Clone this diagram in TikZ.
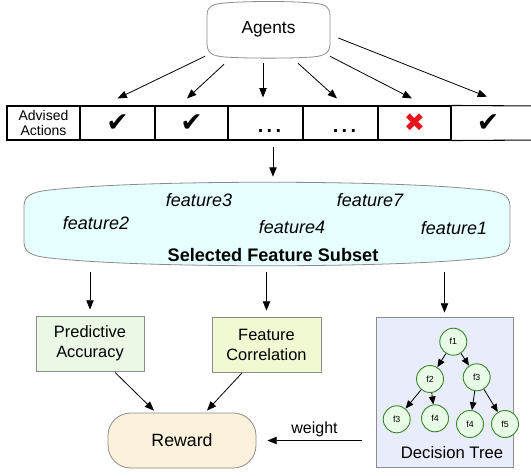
\documentclass[tikz,border=0pt]{standalone}
\usepackage{fontspec}
\setmainfont{Liberation Sans}
\newfontfamily\symfont{DejaVu Sans}
\usetikzlibrary{arrows.meta}
\newlength\upx \setlength\upx{0.75pt}
\definecolor{subfill}{HTML}{E6FFFF}
\definecolor{pafill}{HTML}{EAF8E5}
\definecolor{fcfill}{HTML}{F1F9D3}
\definecolor{dtfill}{HTML}{E8ECFB}
\definecolor{rwfill}{HTML}{FCF2DC}
\definecolor{cfill}{HTML}{E8FBE6}
\definecolor{cline}{HTML}{3C8A2E}
\definecolor{bline}{HTML}{8C8C8C}
\definecolor{xred}{HTML}{E8141B}
\newcommand{\tdots}{\smash{\raisebox{-9\upx}{\hspace{8\upx}.\hspace{2.5pt}.\hspace{2.5pt}.}}}
\begin{document}
\begin{tikzpicture}[x=0.75pt,y=-0.75pt,
  arr/.style={-{Triangle[length=7pt,width=5.5pt]}, line width=0.6pt},
  tarr/.style={-{Triangle[length=6pt,width=5pt]}, line width=0.6pt},
  cell/.style={draw, line width=0.8pt, minimum height=34\upx, inner sep=0pt},
  box/.style={draw=bline, line width=0.6pt, align=center, inner sep=0pt},
  fnode/.style={circle, draw=cline, fill=cfill, minimum size=27\upx, inner sep=0pt, line width=0.7pt, font=\fontsize{6.6}{8}\selectfont},
  feat/.style={font=\fontsize{13.5}{16}\selectfont\itshape},
  chk/.style={font=\symfont\fontsize{20}{20}\selectfont},
  dts/.style={font=\fontsize{15}{16}\selectfont\bfseries}]
\useasboundingbox (0,0) rectangle (531,475);

% Agents
\draw[draw=bline, line width=0.6pt, fill=white] (207,29) -- (207,16) .. controls (207,6) and (212,4) .. (225,3) .. controls (245,1) and (292,1) .. (312,3) .. controls (325,4) and (330,6) .. (330,16) -- (330,43) .. controls (330,53) and (325,56) .. (312,57) .. controls (292,58.5) and (245,58.5) .. (225,57) .. controls (212,56) and (207,53) .. (207,43) -- cycle;
\node[minimum width=123\upx, minimum height=55\upx, inner sep=0pt, font=\fontsize{13}{15}\selectfont] (agents) at (268.5,29.5) {Agents};

% table
\node[cell, minimum width=73\upx, align=center, font=\fontsize{10.5}{11.5}\selectfont] (c0) at (43.5,123) {Advised\\Actions};
\node[cell, minimum width=75\upx, chk] (c1) at (117.5,123) {✔};
\node[cell, minimum width=73\upx, chk] (c2) at (191.5,123) {✔};
\node[cell, minimum width=75\upx, dts] (c3) at (265.5,123) {\tdots};
\node[cell, minimum width=75\upx, dts] (c4) at (340.5,123) {\tdots};
\node[cell, minimum width=73\upx, font=\symfont\fontsize{19}{19}\selectfont, text=xred] (c5) at (414.5,123) {✖};
\node[minimum width=74\upx, minimum height=34\upx, inner sep=0pt, chk] (c6) at (488,123) {✔};
\draw[line width=0.8pt] (c5.north east) -- (540,106);
\draw[line width=0.8pt] (c5.south east) -- (540,140);

% agents arrows
\draw[arr] ([xshift=-63.5\upx,yshift=1\upx]agents.south) -- ([yshift=7\upx]c1.north);
\draw[arr] ([xshift=-44.5\upx,yshift=-7\upx]agents.south) -- ([xshift=-4.5\upx,yshift=7\upx]c2.north);
\draw[arr] ([xshift=-5.5\upx,yshift=-6\upx]agents.south) -- ([xshift=-2.5\upx,yshift=8\upx]c3.north);
\draw[arr] ([xshift=29.5\upx,yshift=-6\upx]agents.south) -- ([xshift=-3.5\upx,yshift=7\upx]c4.north);
\draw[arr] ([xshift=61.5\upx,yshift=1\upx]agents.south) -- ([xshift=-2.5\upx,yshift=7\upx]c5.north);
\draw[arr] ([xshift=8\upx,yshift=-8.5\upx]agents.east) -- ([xshift=-1\upx,yshift=9\upx]c6.north);

% selected feature subset
\draw[draw=bline, line width=0.6pt, fill=subfill] (24,224) -- (24,206) .. controls (24,194) and (34,191) .. (60,189) .. controls (150,180) and (384,180) .. (474,189) .. controls (500,191) and (510,194) .. (510,206) -- (510,242) .. controls (510,254) and (500,257) .. (474,259) .. controls (384,268) and (150,268) .. (60,259) .. controls (34,257) and (24,254) .. (24,242) -- cycle;
\node[minimum width=486\upx, minimum height=84\upx, inner sep=0pt] (sub) at (267,224) {};
\node[feat] (f3t) at (199,200) {feature3};
\node[feat] (f7t) at (370,200) {feature7};
\node[feat] (f2t) at (96,223) {feature2};
\node[feat] (f4t) at (292,227) {feature4};
\node[feat] (f1t) at (454,228) {feature1};
\node[font=\fontsize{13.6}{16}\selectfont\bfseries] (sfs) at (273,255) {Selected Feature Subset};

\draw[arr] ([xshift=7.5\upx,yshift=-6\upx]c3.south) -- ([xshift=6\upx,yshift=5\upx]sub.north);

% lower boxes
\node[box, fill=pafill, minimum width=108\upx, minimum height=55\upx, font=\fontsize{12.3}{15}\selectfont] (pa) at (90,343.5) {Predictive\\Accuracy};
\node[box, fill=fcfill, minimum width=109\upx, minimum height=55\upx, font=\fontsize{12.3}{15}\selectfont] (fc) at (266.5,344.5) {Feature\\Correlation};
\node[box, fill=dtfill, minimum width=137\upx, minimum height=150\upx] (dt) at (444.5,392) {};
\node[box, fill=rwfill, rounded corners=17pt, minimum width=148\upx, minimum height=55\upx, font=\fontsize{13.3}{16}\selectfont] (rw) at (182,440.5) {Reward};

\draw[arr] ([yshift=-6\upx]sub.south -| pa.north) -- ([yshift=6\upx]pa.north);
\draw[arr] ([yshift=-6\upx]sub.south -| fc.north) -- ([yshift=6\upx]fc.north);
\draw[arr] ([yshift=-6\upx]sub.south -| dt.north) -- ([yshift=4\upx]dt.north);

\draw[arr] ([xshift=25\upx,yshift=-1\upx]pa.south) -- ([xshift=-28\upx,yshift=2\upx]rw.north);
\draw[arr] ([xshift=-24.5\upx,yshift=-0.5\upx]fc.south) -- ([xshift=25\upx,yshift=2\upx]rw.north);

\path (dt.west |- rw.east) coordinate (wstart);
\draw[arr] ([xshift=-14\upx]wstart) -- ([xshift=11\upx]rw.east) node[midway, above=-1pt, font=\fontsize{12}{14}\selectfont] (wl) {weight};

% tree
\node[fnode] (t1) at (453.3,341.7) {f1};
\node[fnode] (t2) at (430,379) {f2};
\node[fnode] (t3) at (476.7,377.3) {f3};
\node[fnode] (t4) at (396.7,419.3) {f3};
\node[fnode] (t5) at (435,418.3) {f4};
\node[fnode] (t6) at (470,424) {f4};
\node[fnode] (t7) at (505,424) {f5};
\draw[tarr] (t1) -- (t2);
\draw[tarr] (t1) -- (t3);
\draw[tarr] (t2) -- (t4);
\draw[tarr] (t2) -- (t5);
\draw[tarr] (t3) -- (t6);
\draw[tarr] (t3) -- (t7);
\node[font=\fontsize{12.5}{15}\selectfont] (dtl) at (452,453) {Decision Tree};
\end{tikzpicture}
\end{document}
